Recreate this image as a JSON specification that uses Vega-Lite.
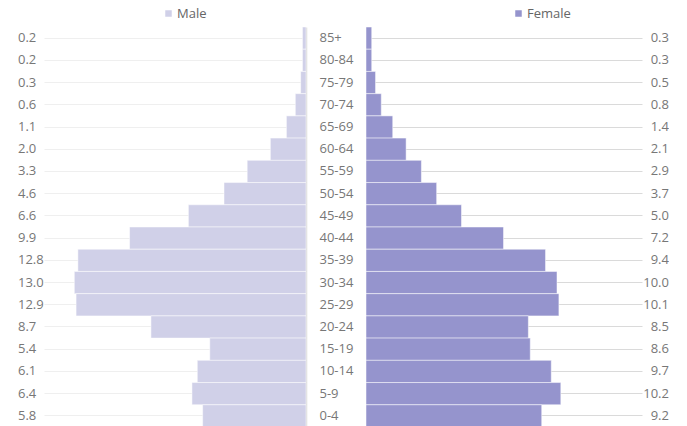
{
  "$schema": "https://vega.github.io/schema/vega-lite/v6.json",
  "padding": {"left": 17, "top": 7, "right": 0, "bottom": 0},
  "config": {
    "view": {"stroke": null},
    "font": "Open Sans",
    "axis": {"labelFont": "Open Sans", "labelFontSize": 13, "labelColor": "#777777"},
    "legend": {"labelFont": "Open Sans", "labelFontSize": 13, "labelColor": "#666666"},
    "text": {"font": "Open Sans", "fontSize": 13, "color": "#777777"}
  },
  "data": {"values": [
    {"age": "85+", "male": 0.2, "female": 0.3},
    {"age": "80-84", "male": 0.2, "female": 0.3},
    {"age": "75-79", "male": 0.3, "female": 0.5},
    {"age": "70-74", "male": 0.6, "female": 0.8},
    {"age": "65-69", "male": 1.1, "female": 1.4},
    {"age": "60-64", "male": 2.0, "female": 2.1},
    {"age": "55-59", "male": 3.3, "female": 2.9},
    {"age": "50-54", "male": 4.6, "female": 3.7},
    {"age": "45-49", "male": 6.6, "female": 5.0},
    {"age": "40-44", "male": 9.9, "female": 7.2},
    {"age": "35-39", "male": 12.8, "female": 9.4},
    {"age": "30-34", "male": 13.0, "female": 10.0},
    {"age": "25-29", "male": 12.9, "female": 10.1},
    {"age": "20-24", "male": 8.7, "female": 8.5},
    {"age": "15-19", "male": 5.4, "female": 8.6},
    {"age": "10-14", "male": 6.1, "female": 9.7},
    {"age": "5-9", "male": 6.4, "female": 10.2},
    {"age": "0-4", "male": 5.8, "female": 9.2}
  ]},
  "spacing": 12,
  "resolve": {"scale": {"color": "independent"}, "legend": {"color": "independent"}},
  "hconcat": [
    {
      "width": 262,
      "height": 400,
      "encoding": {
        "y": {
          "field": "age", "type": "nominal",
          "sort": ["85+","80-84","75-79","70-74","65-69","60-64","55-59","50-54","45-49","40-44","35-39","30-34","25-29","20-24","15-19","10-14","5-9","0-4"],
          "scale": {"paddingInner": 0, "paddingOuter": 0},
          "axis": {"orient": "right", "title": null, "ticks": false, "labelAlign": "left", "labelPadding": 13, "domainColor": "#dcdcdc", "domainWidth": 1.5, "grid": true, "gridColor": "#efefef"}
        }
      },
      "layer": [
        {
          "mark": {"type": "bar", "stroke": "white", "strokeWidth": 0.5},
          "encoding": {
            "x": {"field": "male", "type": "quantitative", "scale": {"domain": [0, 14.7], "reverse": true, "nice": false}, "axis": null},
            "color": {"datum": "Male", "type": "nominal", "scale": {"range": ["#d0d0e8"]},
              "legend": {"title": null, "orient": "none", "legendX": 118, "legendY": -20, "symbolType": "square", "symbolSize": 64, "labelOffset": 2}}
          }
        },
        {
          "mark": {"type": "text", "align": "left", "clip": false},
          "encoding": {
            "x": {"datum": 16.16, "type": "quantitative"},
            "text": {"field": "male", "type": "quantitative", "format": ".1f"}
          }
        }
      ]
    },
    {
      "width": 276,
      "height": 400,
      "encoding": {
        "y": {
          "field": "age", "type": "nominal",
          "sort": ["85+","80-84","75-79","70-74","65-69","60-64","55-59","50-54","45-49","40-44","35-39","30-34","25-29","20-24","15-19","10-14","5-9","0-4"],
          "scale": {"paddingInner": 0, "paddingOuter": 0},
          "axis": {"title": null, "ticks": false, "labels": false, "domain": false, "grid": true, "gridColor": "#dadada"}
        }
      },
      "layer": [
        {
          "mark": {"type": "bar", "stroke": "white", "strokeWidth": 0.5},
          "encoding": {
            "x": {"field": "female", "type": "quantitative", "scale": {"domain": [0, 14.45], "nice": false}, "axis": null},
            "color": {"datum": "Female", "type": "nominal", "scale": {"range": ["#9594cd"]},
              "legend": {"title": null, "orient": "none", "legendX": 146, "legendY": -20, "symbolType": "square", "symbolSize": 64, "labelOffset": 2}}
          }
        },
        {
          "mark": {"type": "text", "align": "right", "clip": false},
          "encoding": {
            "x": {"datum": 15.86, "type": "quantitative"},
            "text": {"field": "female", "type": "quantitative", "format": ".1f"}
          }
        }
      ]
    }
  ]
}
